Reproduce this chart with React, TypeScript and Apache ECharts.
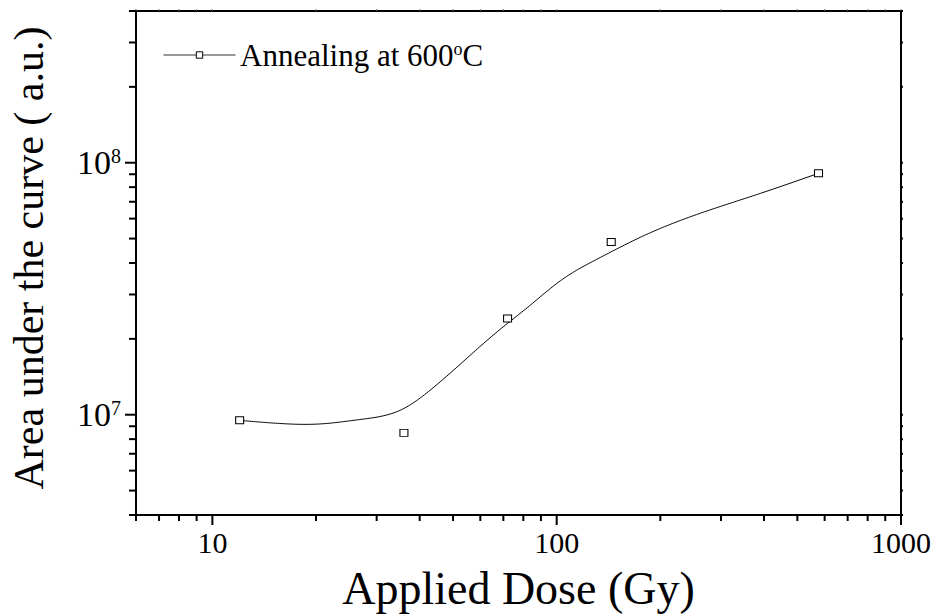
import React, { useEffect, useRef } from "react";
import * as echarts from "echarts";

// Measured points
const doses = [12, 36, 72, 144, 576];
const areas = [9.5e6, 8.47e6, 2.41e7, 4.85e7, 9.08e7];

// Smoothed trend curve through the measurements
const curveDose = [12, 15.7, 20.5, 26.8, 35.7, 42.9, 53.5, 67.2, 83.8, 102.5, 134, 175, 262, 392, 576];
const curveArea = [9.5e6, 9.23e6, 9.19e6, 9.57e6, 1.053e7, 1.251e7, 1.625e7, 2.135e7, 2.72e7, 3.4e7, 4.21e7, 5.06e7, 6.31e7, 7.57e7, 9.08e7];

// Axis tick positions (log decades and their sub-divisions)
const xMajorTicks = [10, 100, 1000];
const xMinorTicks = [6, 7, 8, 9, 20, 30, 40, 50, 60, 70, 80, 90, 200, 300, 400, 500, 600, 700, 800, 900];
const yMajorTicks = [1e7, 1e8];
const yMinorTicks = [4e6, 5e6, 6e6, 7e6, 8e6, 9e6, 2e7, 3e7, 4e7, 5e7, 6e7, 7e7, 8e7, 9e7, 2e8, 3e8, 4e8];

const SERIES_NAME = "Annealing at 600°C";
const FONT = "Liberation Serif, Times New Roman, serif";

// Natural cubic spline through screen-space knots, sampled for drawing
function splinePath(xs: number[], ys: number[], step = 2): number[][] {
  const n = xs.length;
  const h: number[] = [];
  for (let i = 0; i < n - 1; i++) h.push(xs[i + 1] - xs[i]);
  const M = new Array(n).fill(0);
  if (n > 2) {
    const a: number[] = [], b: number[] = [], c: number[] = [], d: number[] = [];
    for (let i = 1; i < n - 1; i++) {
      a.push(h[i - 1]);
      b.push(2 * (h[i - 1] + h[i]));
      c.push(h[i]);
      d.push(6 * ((ys[i + 1] - ys[i]) / h[i] - (ys[i] - ys[i - 1]) / h[i - 1]));
    }
    const m = b.length;
    for (let i = 1; i < m; i++) {
      const w = a[i] / b[i - 1];
      b[i] -= w * c[i - 1];
      d[i] -= w * d[i - 1];
    }
    const sol = new Array(m).fill(0);
    sol[m - 1] = d[m - 1] / b[m - 1];
    for (let i = m - 2; i >= 0; i--) sol[i] = (d[i] - c[i] * sol[i + 1]) / b[i];
    for (let i = 0; i < m; i++) M[i + 1] = sol[i];
  }
  const pts: number[][] = [];
  for (let i = 0; i < n - 1; i++) {
    const x0 = xs[i], x1 = xs[i + 1], hh = h[i];
    for (let x = x0; x < x1; x += step) {
      const A = (x1 - x) / hh, B = (x - x0) / hh;
      const y = A * ys[i] + B * ys[i + 1] + ((A * A * A - A) * M[i] + (B * B * B - B) * M[i + 1]) * (hh * hh) / 6;
      pts.push([x, y]);
    }
  }
  pts.push([xs[n - 1], ys[n - 1]]);
  return pts;
}

export default function App() {
  const ref = useRef<HTMLDivElement>(null);

  useEffect(() => {
    if (!ref.current) return;
    const chart = echarts.init(ref.current, undefined, { renderer: "svg" });

    const xTickData = [
      ...xMajorTicks.map((v) => [v, 1e7, 1]),
      ...xMinorTicks.map((v) => [v, 1e7, 0]),
    ];
    const yTickData = [
      ...yMajorTicks.map((v) => [10, v, 1]),
      ...yMinorTicks.map((v) => [10, v, 0]),
    ];
    const tickStyle = { stroke: "#000", lineWidth: 2 };

    chart.setOption({
      animation: false,
      backgroundColor: "#fff",
      textStyle: { fontFamily: FONT },
      grid: {
        left: 136,
        right: 38,
        top: 11,
        bottom: 98,
        show: true,
        borderColor: "#000",
        borderWidth: 2,
        backgroundColor: "transparent",
      },
      // Legend supplies the line + marker key; its label is drawn as rich graphic text
      legend: {
        data: [{ name: SERIES_NAME }],
        left: 158,
        top: 35,
        itemWidth: 72,
        itemHeight: 8,
        selectedMode: false,
        formatter: () => " ",
        lineStyle: { width: 1, color: "#333", opacity: 1 },
        itemStyle: { color: "#fff", borderColor: "#000", borderWidth: 1, opacity: 1 },
        textStyle: { fontFamily: FONT, fontSize: 30, color: "#000" },
      },
      graphic: [
        {
          type: "text",
          x: 240,
          y: 55,
          silent: true,
          style: {
            text: "{a|Annealing at 600}{s|o}{a|C}",
            verticalAlign: "middle",
            align: "left",
            fontFamily: FONT,
            fontSize: 31,
            fill: "#000",
            rich: {
              a: { fontFamily: FONT, fontSize: 31, fill: "#000", color: "#000", lineHeight: 31 },
              s: { fontFamily: FONT, fontSize: 18, fill: "#000", color: "#000", verticalAlign: "top", lineHeight: 18 },
            },
          },
        },
      ],
      xAxis: {
        type: "log",
        logBase: 10,
        min: 6,
        max: 1000,
        name: "Applied Dose (Gy)",
        nameLocation: "middle",
        nameGap: 50,
        nameTextStyle: { fontFamily: FONT, fontSize: 46, color: "#000" },
        axisLine: { show: true, lineStyle: { color: "#000", width: 2 } },
        axisTick: { show: false },
        splitLine: { show: false },
        axisLabel: {
          showMinLabel: false,
          margin: 12,
          fontFamily: FONT,
          fontSize: 30,
          color: "#000",
          formatter: (v: number) => (xMajorTicks.includes(Math.round(v)) ? String(Math.round(v)) : ""),
        },
      },
      yAxis: {
        type: "log",
        logBase: 10,
        min: 4e6,
        max: 4e8,
        name: "Area under the curve ( a.u.)",
        nameLocation: "middle",
        nameGap: 86,
        nameTextStyle: { fontFamily: FONT, fontSize: 42, color: "#000", padding: [0, 0, 0, 10] },
        axisLine: { show: true, lineStyle: { color: "#000", width: 2 } },
        axisTick: { show: false },
        splitLine: { show: false },
        axisLabel: {
          showMinLabel: false,
          showMaxLabel: false,
          margin: 15,
          formatter: (v: number) => {
            const e = Math.round(Math.log10(v));
            return Math.abs(v - Math.pow(10, e)) < 1 ? `{b|10}{s|${e}}` : "";
          },
          rich: {
            b: { fontFamily: FONT, fontSize: 34, color: "#000", lineHeight: 34 },
            s: { fontFamily: FONT, fontSize: 20, color: "#000", verticalAlign: "top", lineHeight: 20 },
          },
        },
      },
      series: [
        {
          // smooth trend curve
          name: "curve",
          type: "custom",
          silent: true,
          z: 2,
          data: curveDose.map((d, i) => [d, curveArea[i]]),
          renderItem: (params: any, api: any) => {
            if (params.dataIndex !== 0) return null;
            const px = curveDose.map((d, i) => api.coord([d, curveArea[i]]));
            const pts = splinePath(px.map((p: number[]) => p[0]), px.map((p: number[]) => p[1]));
            return {
              type: "polyline",
              shape: { points: pts },
              style: { stroke: "#000", lineWidth: 1, fill: null },
            };
          },
        },
        {
          name: SERIES_NAME,
          type: "line",
          data: doses.map((d, i) => [d, areas[i]]),
          symbol: "rect",
          symbolSize: [8, 7],
          showSymbol: true,
          itemStyle: { color: "#fff", borderColor: "#000", borderWidth: 1 },
          lineStyle: { width: 0, opacity: 0 },
          z: 3,
          silent: true,
        },
        {
          name: "xTicks",
          type: "custom",
          silent: true,
          data: xTickData,
          renderItem: (params: any, api: any) => {
            const cs = params.coordSys;
            const px = api.coord([api.value(0), 1e7])[0];
            const len = api.value(2) ? 10 : 6;
            const bottom = cs.y + cs.height;
            return {
              type: "group",
              children: [
                { type: "line", shape: { x1: px, y1: bottom, x2: px, y2: bottom + len }, style: tickStyle },
                { type: "line", shape: { x1: px, y1: cs.y, x2: px, y2: cs.y - 2 }, style: { stroke: "#666", lineWidth: 1 } },
              ],
            };
          },
        },
        {
          name: "yTicks",
          type: "custom",
          silent: true,
          data: yTickData,
          renderItem: (params: any, api: any) => {
            const cs = params.coordSys;
            const py = api.coord([10, api.value(1)])[1];
            const len = api.value(2) ? 11 : 7;
            const right = cs.x + cs.width;
            return {
              type: "group",
              children: [
                { type: "line", shape: { x1: cs.x, y1: py, x2: cs.x - len, y2: py }, style: tickStyle },
                { type: "line", shape: { x1: right, y1: py, x2: right + 2, y2: py }, style: tickStyle },
              ],
            };
          },
        },
      ],
    });

    return () => chart.dispose();
  }, []);

  return (
    <div
      ref={ref}
      style={{ position: "fixed", left: 0, top: 0, width: 939, height: 616, background: "#fff" }}
    />
  );
}
